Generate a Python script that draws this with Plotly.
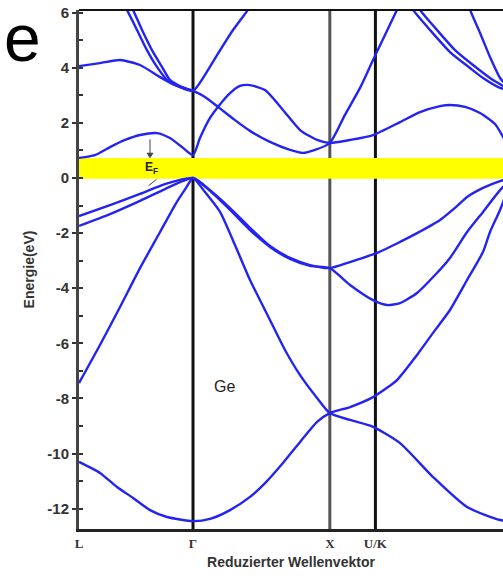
import plotly.graph_objects as go

# High-symmetry points (reduced path coordinate)
sym_labels = ["L", "Γ", "X", "U/K"]
sym_k = [0.0, 1.0, 2.20, 2.60]

# Bands: k values and energies (eV)
bands = [
    # lowest band L -> Γ -> X -> Γ
    ([0, 0.184, 0.333, 0.474, 0.623, 0.772, 1.0, 1.149, 1.325, 1.5, 1.632, 1.789, 1.939, 2.088, 2.20,
      2.377, 2.579, 2.789, 2.965, 3.123, 3.254, 3.404, 3.544, 3.605, 3.693, 3.80],
     [-10.30, -10.70, -11.21, -11.61, -12.05, -12.30, -12.45, -12.37, -12.05, -11.57, -11.07, -10.34, -9.58, -8.85, -8.53,
      -8.31, -7.95, -7.33, -6.42, -5.52, -4.79, -3.70, -2.68, -1.96, -1.16, 0.0]),
    # L -7.4 -> Γ 0 -> X -8.5 -> Γ -12.45
    ([0, 0.184, 0.36, 0.535, 0.711, 0.842, 0.939, 1.0, 1.105, 1.237, 1.368, 1.5, 1.675, 1.807, 1.939, 2.088, 2.20,
      2.377, 2.579, 2.816, 3.105, 3.404, 3.693, 3.80],
     [-7.44, -6.06, -4.68, -3.27, -1.96, -0.98, -0.36, 0.0, -0.51, -1.23, -2.43, -3.70, -5.15, -6.24, -7.15, -7.98, -8.53,
      -8.78, -9.03, -9.62, -10.85, -11.94, -12.41, -12.45]),
    # upper valence
    ([0, 0.272, 0.535, 0.754, 1.0, 1.149, 1.325, 1.5, 1.675, 1.851, 2.026, 2.20,
      2.377, 2.614, 2.816, 2.965, 3.167, 3.316, 3.404, 3.544, 3.693, 3.80],
     [-1.38, -0.98, -0.58, -0.22, 0.0, -0.44, -1.09, -1.81, -2.47, -2.90, -3.16, -3.27,
      -3.05, -2.72, -2.32, -2.00, -1.52, -1.02, -0.69, -0.36, -0.11, 0.0]),
    # second valence
    ([0, 0.272, 0.535, 0.754, 1.0, 1.149, 1.325, 1.5, 1.675, 1.851, 2.026, 2.20,
      2.377, 2.579, 2.702, 2.816, 2.965, 3.123, 3.254, 3.404, 3.544, 3.693, 3.80],
     [-1.74, -1.31, -0.83, -0.40, 0.0, -0.47, -1.16, -1.89, -2.50, -2.94, -3.19, -3.27,
      -3.88, -4.43, -4.61, -4.54, -4.17, -3.52, -2.90, -1.96, -1.23, -0.44, 0.0]),
    # lowest conduction band
    ([0, 0.14, 0.272, 0.404, 0.535, 0.684, 0.798, 0.904, 1.0, 1.061, 1.149, 1.219, 1.325, 1.412, 1.5, 1.632, 1.789,
      1.939, 2.088, 2.20, 2.377, 2.579, 2.816, 2.991, 3.167, 3.254, 3.386, 3.518, 3.649, 3.719, 3.80],
     [0.73, 0.83, 1.12, 1.38, 1.56, 1.63, 1.45, 1.12, 0.83, 1.45, 2.18, 2.58, 3.08, 3.34, 3.37, 3.19, 2.47,
      1.74, 1.38, 1.27, 1.38, 1.56, 2.03, 2.39, 2.61, 2.65, 2.58, 2.36, 1.96, 1.49, 0.83]),
    # L3 conduction -> Γ15 -> X1 -> steep up
    ([0, 0.184, 0.36, 0.535, 0.711, 0.842, 1.0, 1.105, 1.219, 1.368, 1.5, 1.675, 1.851, 1.965, 2.07, 2.20,
      2.333, 2.465, 2.579, 2.684, 2.789, 2.833],
     [4.06, 4.17, 4.28, 4.10, 3.66, 3.37, 3.16, 2.94, 2.58, 2.10, 1.71, 1.31, 1.02, 0.91, 1.02, 1.27,
      2.29, 3.27, 4.28, 5.19, 6.10, 6.46]),
    # from top to Γ15, then steep up along Γ-X
    ([0.377, 0.421, 0.509, 0.596, 0.684, 0.772, 0.886, 1.0, 1.105, 1.211, 1.351, 1.482, 1.544],
     [6.46, 6.10, 5.37, 4.64, 4.03, 3.56, 3.30, 3.16, 3.74, 4.46, 5.37, 6.10, 6.46]),
    ([0.43, 0.474, 0.553, 0.64, 0.728, 0.798, 0.904, 1.0],
     [6.46, 6.10, 5.37, 4.64, 4.03, 3.56, 3.30, 3.16]),
    # K-Γ upper bands
    ([2.886, 2.93, 3.079, 3.254, 3.43, 3.544, 3.693, 3.80],
     [6.46, 6.10, 5.37, 4.57, 3.99, 3.63, 3.27, 3.16]),
    ([2.947, 2.991, 3.14, 3.298, 3.456, 3.605, 3.737, 3.80],
     [6.46, 6.10, 5.37, 4.64, 4.10, 3.63, 3.30, 3.16]),
    ([3.404, 3.43, 3.518, 3.605, 3.693, 3.80],
     [6.46, 6.10, 5.26, 4.39, 3.63, 3.16]),
]

gap_low, gap_high = -0.03, 0.73
y_ticks = [6, 4, 2, 0, -2, -4, -6, -8, -10, -12]

fig = go.Figure()
for kk, ee in bands:
    fig.add_trace(go.Scatter(x=kk, y=ee, mode="lines",
                             line=dict(color="#2424f2", width=2.4, shape="spline", smoothing=0.6),
                             showlegend=False, hoverinfo="skip"))

x_max = 3.719
# yellow gap band
fig.add_shape(type="rect", xref="x", yref="y", x0=0, x1=x_max + 0.2, y0=gap_low, y1=gap_high,
              fillcolor="#ffff00", line_width=0, layer="below")
# vertical symmetry lines
vcols = {1.0: "#111111", 2.20: "#555555", 2.60: "#111111"}
for xv, c in vcols.items():
    fig.add_shape(type="line", xref="x", yref="paper", x0=xv, x1=xv, y0=0, y1=1,
                  line=dict(color=c, width=3), layer="below")
# top border
fig.add_shape(type="line", xref="paper", yref="paper", x0=0, x1=1, y0=1, y1=1, line=dict(color="#111111", width=2))

# E_F marker arrows
fig.add_shape(type="line", xref="x", yref="y", x0=0.623, x1=0.623, y0=1.40, y1=0.80, line=dict(color="#444", width=1))
fig.add_shape(type="path", xref="x", yref="y", path="M 0.598 0.90 L 0.648 0.90 L 0.623 0.74 Z",
              fillcolor="#444", line=dict(color="#444", width=1))
fig.add_shape(type="line", xref="x", yref="y", x0=0.68, x1=0.61, y0=-0.05, y1=-0.28, line=dict(color="#444", width=1))

fig.add_annotation(x=1.28, y=-7.58, text="Ge", showarrow=False,
                   font=dict(size=16, color="#222", family="Liberation Sans"))
fig.add_annotation(x=0.64, y=0.36, text="<b>E<sub>F</sub></b>", showarrow=False,
                   font=dict(size=12, color="#222", family="Liberation Sans"))
# slide title fragment at top-left
fig.add_annotation(xref="paper", yref="paper", x=(2 - 79) / 424, y=(529 + 1) / 519, xanchor="left", yanchor="top",
                   text="e", showarrow=False, font=dict(size=66, color="black", family="Liberation Sans"))

fig.update_layout(
    width=503, height=586, margin=dict(l=79, r=0, t=10, b=57),
    paper_bgcolor="white", plot_bgcolor="white",
    xaxis=dict(range=[0, x_max], tickvals=sym_k, ticktext=["<b>%s</b>" % s for s in sym_labels],
               showgrid=False, zeroline=False, showline=True, linecolor="#222", linewidth=3, ticks="",
               tickfont=dict(size=13, color="#333", family="Liberation Serif"),
               title=dict(text="<b>Reduzierter Wellenvektor</b>",
                          font=dict(size=14, color="#333", family="Liberation Sans"), standoff=8)),
    yaxis=dict(range=[-12.736, 6.096], tickvals=y_ticks, ticktext=["<b>%d</b>" % v for v in y_ticks],
               showgrid=False, zeroline=False, showline=True, linecolor="#444", linewidth=3,
               ticks="outside", ticklen=4, tickwidth=2, tickcolor="#333",
               minor=dict(dtick=1, ticks="inside", ticklen=4, tickwidth=2, tickcolor="#333"),
               tickfont=dict(size=15, color="#333", family="Liberation Sans"),
               title=dict(text="<b>Energie(eV)</b>",
                          font=dict(size=14, color="#333", family="Liberation Sans"), standoff=10)),
)
fig.write_html("out.html")
